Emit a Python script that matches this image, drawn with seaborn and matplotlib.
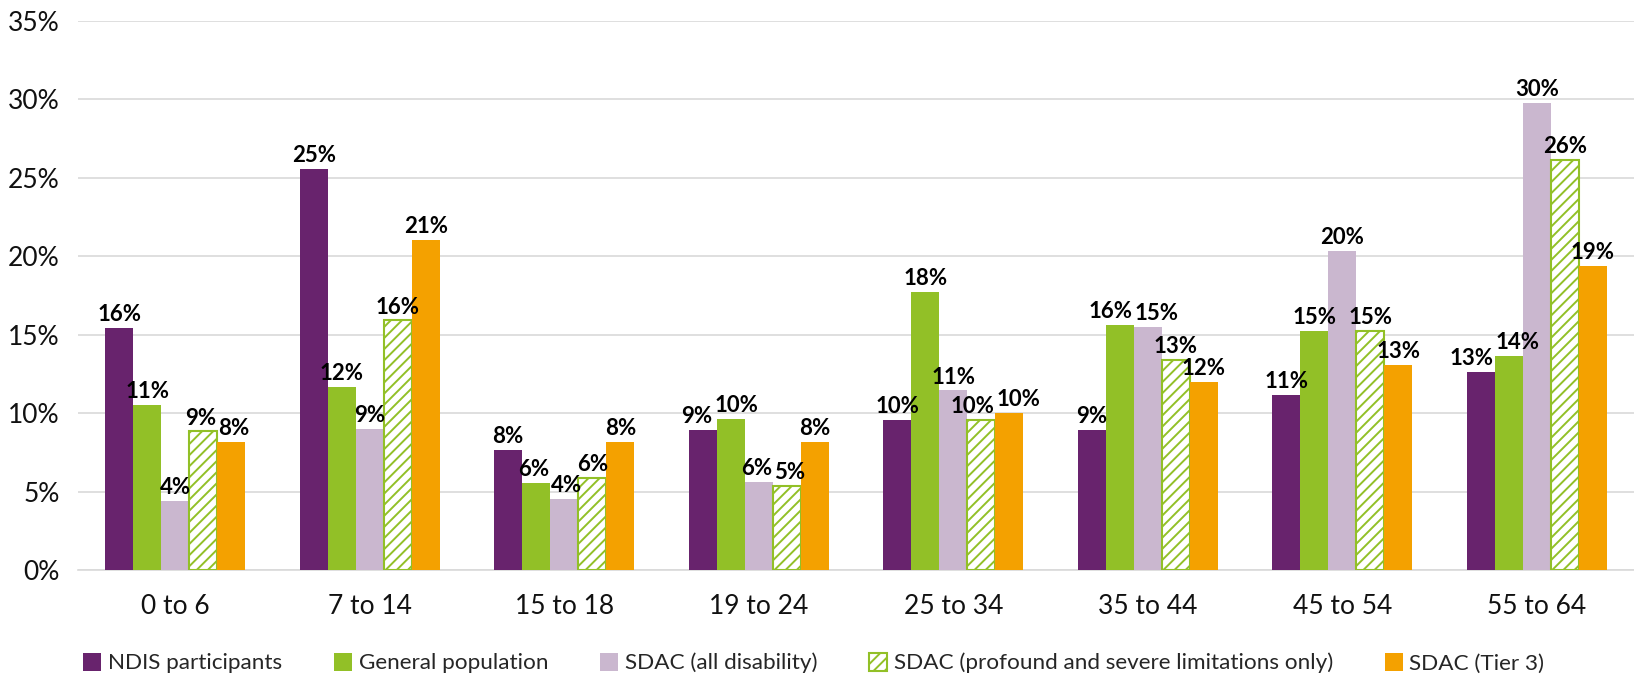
import matplotlib
matplotlib.use("Agg")
import matplotlib.pyplot as plt
from matplotlib.patches import Patch
import seaborn as sns
import pandas as pd

categories = ["0 to 6", "7 to 14", "15 to 18", "19 to 24", "25 to 34", "35 to 44", "45 to 54", "55 to 64"]
series = ["NDIS participants", "General population", "SDAC (all disability)",
          "SDAC (profound and severe limitations only)", "SDAC (Tier 3)"]

ndis = [15.45, 25.55, 7.66, 8.93, 9.57, 8.93, 11.18, 12.64]
general = [10.54, 11.69, 5.56, 9.64, 17.74, 15.65, 15.26, 13.67]
sdac_all = [4.39, 8.98, 4.52, 5.61, 11.45, 15.52, 20.36, 29.80]
sdac_prof = [8.84, 15.91, 5.86, 5.35, 9.57, 13.40, 15.26, 26.17]
sdac_tier3 = [8.18, 21.06, 8.18, 8.18, 10.03, 12.01, 13.08, 19.40]

labels_ndis = ["16%", "25%", "8%", "9%", "10%", "9%", "11%", "13%"]
labels_general = ["11%", "12%", "6%", "10%", "18%", "16%", "15%", "14%"]
labels_sdac_all = ["4%", "9%", "4%", "6%", "11%", "15%", "20%", "30%"]
labels_sdac_prof = ["9%", "16%", "6%", "5%", "10%", "13%", "15%", "26%"]
labels_sdac_tier3 = ["8%", "21%", "8%", "8%", "10%", "12%", "13%", "19%"]

values = [ndis, general, sdac_all, sdac_prof, sdac_tier3]
bar_labels = [labels_ndis, labels_general, labels_sdac_all, labels_sdac_prof, labels_sdac_tier3]

PURPLE = "#68236D"
GREEN = "#92C027"
LILAC = "#CAB7CF"
ORANGE = "#F4A100"
colors = [PURPLE, GREEN, LILAC, "white", ORANGE]

rows = []
for s, vals in zip(series, values):
    for c, v in zip(categories, vals):
        rows.append({"Age": c, "Series": s, "Value": v})
df = pd.DataFrame(rows)

sns.set_theme(style="white")
plt.rcParams["font.family"] = ["Lato", "DejaVu Sans"]
plt.rcParams["hatch.linewidth"] = 1.4

DPI = 100
fig = plt.figure(figsize=(16.34, 6.78), dpi=DPI)
ax = fig.add_axes([78 / 1634, 1 - 570 / 678, 1 - 78 / 1634, (570 - 21) / 678])

sns.barplot(data=df, x="Age", y="Value", hue="Series", order=categories, hue_order=series,
            palette=dict(zip(series, colors)), width=0.72, gap=0, saturation=1,
            errorbar=None, legend=False, ax=ax, zorder=3)

label_texts = []
for i, cont in enumerate(ax.containers):
    for p in cont.patches:
        p.set_linewidth(0)
        if i == 3:
            p.set_facecolor("white")
            p.set_edgecolor(GREEN)
            p.set_hatch("///")
            p.set_linewidth(1.5)
            if hasattr(p, "set_hatchcolor"):
                p.set_hatchcolor(GREEN)
    anns = ax.bar_label(cont, labels=bar_labels[i], padding=2, fontsize=16, fontweight="bold",
                        color="black")
    label_texts.append(list(anns))

ax.set_ylim(0, 35)
ax.set_yticks(range(0, 36, 5))
ax.set_yticklabels([f"{t}%" for t in range(0, 36, 5)])
ax.set_xlim(-0.5, len(categories) - 0.5)
ax.set_xlabel("")
ax.set_ylabel("")
ax.yaxis.grid(True, color="#D9D9D9", linewidth=1.2, zorder=0)
ax.set_axisbelow(True)
for side in ["top", "right", "left"]:
    ax.spines[side].set_visible(False)
ax.spines["bottom"].set_color("#D9D9D9")
ax.spines["bottom"].set_linewidth(1.2)
ax.tick_params(axis="y", labelsize=19, length=0, pad=13, colors="#111111")
ax.tick_params(axis="x", labelsize=19, length=0, pad=17, colors="#111111")

# nudge overlapping value labels apart horizontally (as the original chart does)
for _ in range(4):
    fig.canvas.draw()
    renderer = fig.canvas.get_renderer()
    for j in range(len(categories)):
        group = [label_texts[i][j] for i in range(len(series))]
        for a, b in zip(group[:-1], group[1:]):
            ba = a.get_window_extent(renderer)
            bb = b.get_window_extent(renderer)
            if ba.x1 + 2 > bb.x0 and ba.y0 < bb.y1 and bb.y0 < ba.y1:
                shift_px = (ba.x1 + 2 - bb.x0) / 2
                shift_pt = shift_px * 72 / DPI
                xa, ya = a.xyann
                xb, yb = b.xyann
                a.xyann = (xa - shift_pt, ya)
                b.xyann = (xb + shift_pt, yb)

handles = []
for s, c in zip(series, colors):
    if c == "white":
        h = Patch(facecolor="white", edgecolor=GREEN, hatch="///", linewidth=1.5)
    else:
        h = Patch(facecolor=c, edgecolor="none")
    handles.append(h)
fig.legend(handles, series, loc="center", bbox_to_anchor=(0.498, 0.022), ncol=5,
           frameon=False, fontsize=16.2, handlelength=0.8, handleheight=0.85,
           handletextpad=0.3, columnspacing=2.3)

fig.savefig("out.png", dpi=DPI)
